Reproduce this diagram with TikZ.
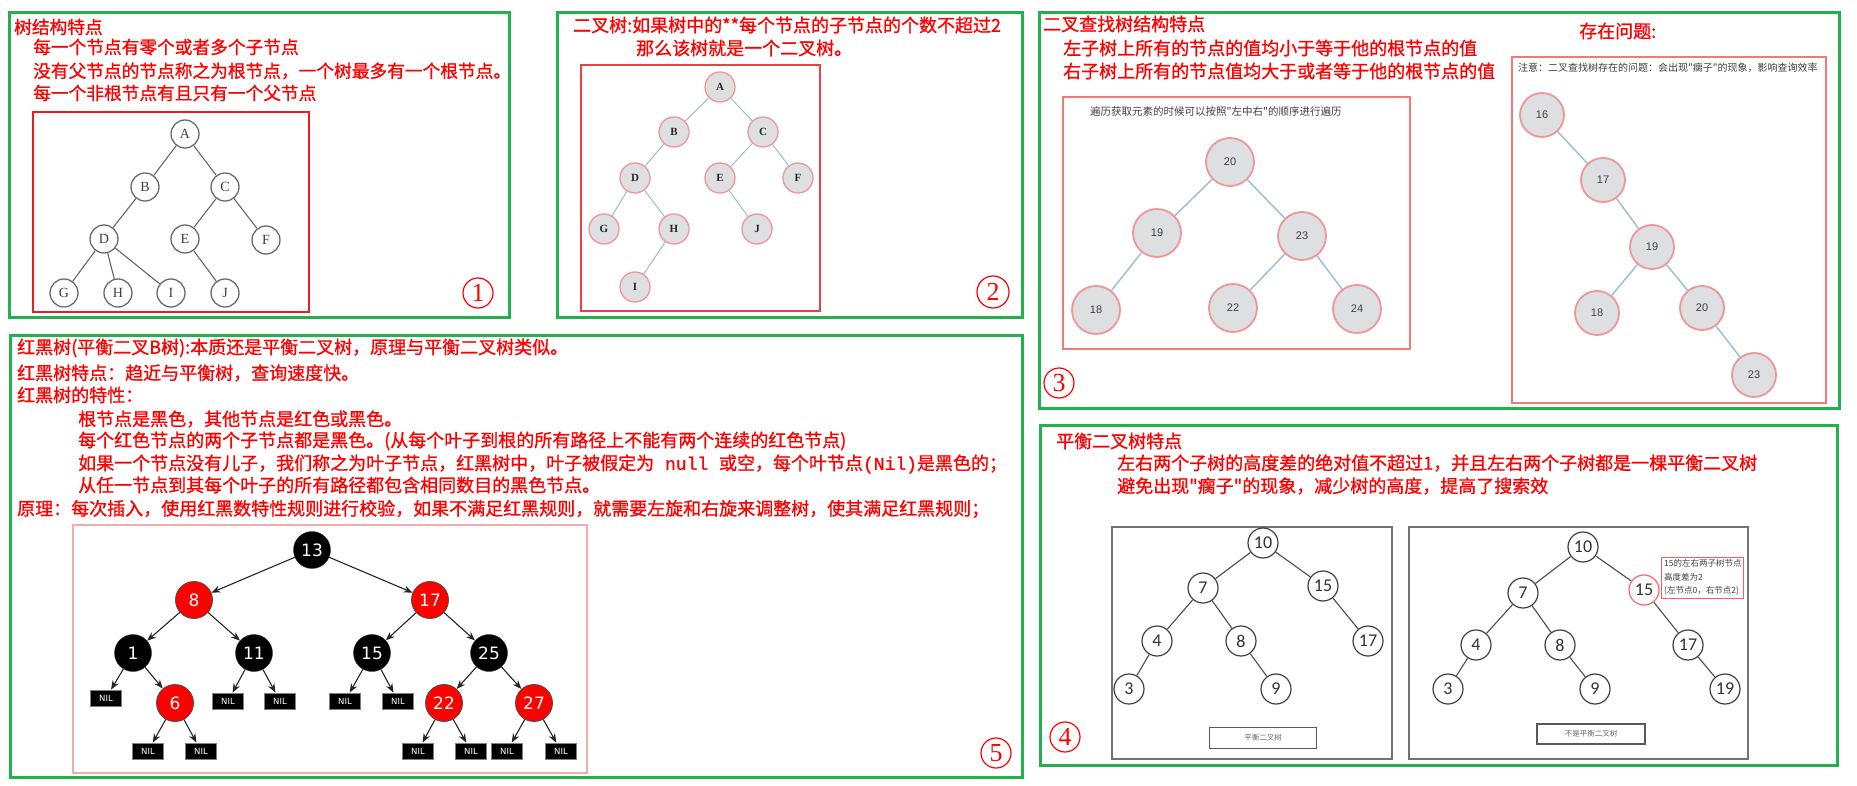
\documentclass[tikz,border=0pt]{standalone}
\usepackage{fontspec}
\newfontfamily\cjk{Noto Sans CJK SC}
\newfontfamily\cjkb[FakeBold=1]{Noto Sans CJK SC}
\newfontfamily\lserif{Liberation Serif}
\newfontfamily\lsans{Liberation Sans}
\newfontfamily\carl{Carlito}
\newfontfamily\dvs{DejaVu Sans}
\newfontfamily\lmono[FakeBold=1]{Liberation Mono}
\usetikzlibrary{arrows.meta}
\definecolor{pgreen}{RGB}{34,177,76}
\definecolor{pred}{RGB}{237,28,36}
\definecolor{pinkline}{RGB}{240,150,150}
\definecolor{nodegray}{RGB}{221,223,225}
\definecolor{edgeblue}{RGB}{150,190,215}
\begin{document}
\begin{tikzpicture}[x=1pt,y=-1pt,
  panel/.style={draw=pgreen,line width=3pt},
  rt/.style={anchor=west,inner sep=0pt,text=red,font=\cjkb\fontsize{18}{20}\selectfont},
  rta/.style={rt,font=\cjkb\fontsize{17.7}{20}\selectfont},
  smalltxt/.style={anchor=west,inner sep=0pt,text=black!75,font=\cjk\fontsize{10.5}{12}\selectfont},
  cnum/.style={circle,draw=red,line width=1.2pt,text=red,minimum size=30pt,inner sep=0pt,font=\lserif\fontsize{26}{26}\selectfont},
  ta/.style={circle,draw=gray!85!black,line width=1.3pt,fill=white,minimum size=28pt,inner sep=0pt,text=black!75,font=\lserif\fontsize{14}{14}\selectfont},
  ea/.style={draw=gray!80!black,line width=1.1pt},
  tb/.style={circle,draw=pinkline,line width=1.3pt,fill=nodegray,minimum size=30pt,inner sep=0pt,text=black!85,font=\lserif\bfseries\fontsize{11}{11}\selectfont},
  eb/.style={draw=edgeblue,line width=1pt},
  tc/.style={circle,draw=pinkline,line width=1.8pt,fill=nodegray,minimum size=48pt,inner sep=0pt,text=black!75,font=\lsans\fontsize{11}{11}\selectfont},
  tcs/.style={tc,minimum size=44pt},
  ec/.style={draw=edgeblue,line width=1.4pt},
  td/.style={circle,draw=black!75,line width=1.2pt,fill=white,minimum size=30pt,inner sep=0pt,text=black!80,font=\carl\fontsize{18}{18}\selectfont},
  ed/.style={draw=black!70,line width=1.1pt},
  rbb/.style={circle,fill=black,draw=black!80,minimum size=37pt,inner sep=0pt,text=white,font=\dvs\fontsize{17}{17}\selectfont},
  rbr/.style={rbb,fill=red,draw=black!70,line width=0.8pt},
  nil/.style={rectangle,fill=black,draw=black!50,line width=0.8pt,minimum width=31pt,minimum height=16pt,inner sep=0pt,text=white,font=\dvs\fontsize{8.5}{8.5}\selectfont},
  ar/.style={-{Stealth[length=9pt,width=7pt]},draw=black!85,line width=1.1pt},
  lbox/.style={rectangle,draw=black!65,line width=1.5pt,inner sep=0pt,text=black!60,font=\cjk\fontsize{7.5}{8}\selectfont}
]
\useasboundingbox[fill=white] (0,0) rectangle (1857,786);

% ---------------- Panel 1 ----------------
\draw[panel] (9,13) rectangle (509,317);
\node[rta] (p1t) at (14,27) {树结构特点};
\node[rta] (p1a) at (33,47) {每一个节点有零个或者多个子节点};
\node[rta] (p1b) at (33,71) {没有父节点的节点称之为根节点，一个树最多有一个根节点。};
\node[rta] (p1c) at (33,93) {每一个非根节点有且只有一个父节点};
\draw[draw=pred,line width=2.4pt] (33,112) rectangle (309,312);
\node[ta] (aA) at (185,134) {A};
\node[ta] (aB) at (145,187) {B};
\node[ta] (aC) at (225,187) {C};
\node[ta] (aD) at (104,239) {D};
\node[ta] (aE) at (185,239) {E};
\node[ta] (aF) at (266,240) {F};
\node[ta] (aG) at (64,293) {G};
\node[ta] (aH) at (118,293) {H};
\node[ta] (aI) at (171,293) {I};
\node[ta] (aJ) at (225,293) {J};
\draw[ea] (aA) -- (aB); \draw[ea] (aA) -- (aC);
\draw[ea] (aB) -- (aD); \draw[ea] (aC) -- (aE); \draw[ea] (aC) -- (aF);
\draw[ea] (aD) -- (aG); \draw[ea] (aD) -- (aH); \draw[ea] (aD) -- (aI);
\draw[ea] (aE) -- (aJ);
\node[cnum] (n1) at (478,293) {1};

% ---------------- Panel 2 ----------------
\draw[panel] (557,13) rectangle (1022,317);
\node[rt] (p2a) at (573,25) {二叉树:如果树中的**每个节点的子节点的个数不超过2};
\node[rt] (p2b) at (636,48) {那么该树就是一个二叉树。};
\draw[draw=pred!85,line width=1.6pt] (581,65) rectangle (820,311);
\node[tb] (bA) at (720,87) {A};
\node[tb] (bB) at (674,132) {B};
\node[tb] (bC) at (763,132) {C};
\node[tb] (bD) at (635,178) {D};
\node[tb] (bE) at (720,178) {E};
\node[tb] (bF) at (798,178) {F};
\node[tb] (bG) at (604,229) {G};
\node[tb] (bH) at (674,229) {H};
\node[tb] (bJ) at (757,229) {J};
\node[tb] (bI) at (635,287) {I};
\draw[eb] (bA) -- (bB); \draw[eb] (bA) -- (bC);
\draw[eb] (bB) -- (bD); \draw[eb] (bC) -- (bE); \draw[eb] (bC) -- (bF);
\draw[eb] (bD) -- (bG); \draw[eb] (bD) -- (bH);
\draw[eb] (bE) -- (bJ); \draw[eb] (bH) -- (bI);
\node[cnum,minimum size=32pt] (n2) at (993,292) {2};

% ---------------- Panel 3 ----------------
\draw[panel] (1039,13) rectangle (1839,408);
\node[rt] (p3t) at (1043,24) {二叉查找树结构特点};
\node[rt] (p3a) at (1063,48) {左子树上所有的节点的值均小于等于他的根节点的值};
\node[rt] (p3b) at (1063,71) {右子树上所有的节点值均大于或者等于他的根节点的值};
\node[rt] (p3q) at (1579,31) {存在问题:};
\draw[draw=pinkline!80!red,line width=1.3pt] (1063,97) rectangle (1410,349);
\node[smalltxt] (p3s1) at (1090,112) {遍历获取元素的时候可以按照"左中右"的顺序进行遍历};
\node[tc] (c20) at (1230,162) {20};
\node[tc] (c19) at (1157,233) {19};
\node[tc] (c23) at (1302,236) {23};
\node[tc] (c18) at (1096,310) {18};
\node[tc] (c22) at (1233,308) {22};
\node[tc] (c24) at (1357,309) {24};
\draw[ec] (c20) -- (c19); \draw[ec] (c20) -- (c23);
\draw[ec] (c19) -- (c18); \draw[ec] (c23) -- (c22); \draw[ec] (c23) -- (c24);
\draw[draw=pinkline!80!red,line width=1.3pt] (1512,57) rectangle (1826,403);
\node[smalltxt,font=\cjk\fontsize{10}{12}\selectfont] (p3s2) at (1518,68) {注意：二叉查找树存在的问题：会出现"瘸子"的现象，影响查询效率};
\node[tcs] (d16) at (1542,115) {16};
\node[tcs] (d17) at (1603,180) {17};
\node[tcs] (d19) at (1652,247) {19};
\node[tcs] (d18) at (1597,313) {18};
\node[tcs] (d20) at (1702,308) {20};
\node[tcs] (d23) at (1754,375) {23};
\draw[ec] (d16) -- (d17); \draw[ec] (d17) -- (d19);
\draw[ec] (d19) -- (d18); \draw[ec] (d19) -- (d20); \draw[ec] (d20) -- (d23);
\node[cnum] (n3) at (1059,383) {3};

% ---------------- Panel 4 ----------------
\draw[panel] (1040,425) rectangle (1837,765);
\node[rt] (p4t) at (1056,441) {平衡二叉树特点};
\node[rt] (p4a) at (1117,463) {左右两个子树的高度差的绝对值不超过1，并且左右两个子树都是一棵平衡二叉树};
\node[rt] (p4b) at (1117,486) {避免出现"瘸子"的现象，减少树的高度，提高了搜索效};
\draw[draw=black!55,line width=1.2pt] (1112,527) rectangle (1392,759);
\node[td] (e10) at (1263,543) {10};
\node[td] (e7) at (1203,588) {7};
\node[td] (e15) at (1323,586) {15};
\node[td] (e4) at (1157,641) {4};
\node[td] (e8) at (1241,641) {8};
\node[td] (e17) at (1368,641) {17};
\node[td] (e3) at (1129,689) {3};
\node[td] (e9) at (1276,689) {9};
\draw[ed] (e10) -- (e7); \draw[ed] (e10) -- (e15);
\draw[ed] (e7) -- (e4); \draw[ed] (e7) -- (e8);
\draw[ed] (e4) -- (e3); \draw[ed] (e8) -- (e9);
\draw[ed] (e15) -- (e17);
\node[lbox,minimum width=107pt,minimum height=21pt] (lb1) at (1263,738) {平衡二叉树};
\draw[draw=black!55,line width=1.2pt] (1409,527) rectangle (1748,759);
\node[td] (f10) at (1583,547) {10};
\node[td] (f7) at (1523,593) {7};
\node[td,draw=red!60] (f15) at (1644,590) {15};
\node[td] (f4) at (1476,645) {4};
\node[td] (f8) at (1560,645) {8};
\node[td] (f17) at (1688,645) {17};
\node[td] (f3) at (1448,689) {3};
\node[td] (f9) at (1595,689) {9};
\node[td] (f19) at (1725,689) {19};
\draw[ed] (f10) -- (f7); \draw[ed] (f10) -- (f15);
\draw[ed] (f7) -- (f4); \draw[ed] (f7) -- (f8);
\draw[ed] (f4) -- (f3); \draw[ed] (f8) -- (f9);
\draw[ed] (f15) -- (f17); \draw[ed] (f17) -- (f19);
\draw[draw=red!65,line width=1pt] (1661,557) rectangle (1743,598);
\node[smalltxt,font=\cjk\fontsize{8.5}{10}\selectfont] (an1) at (1664,563) {15的左右两子树节点};
\node[smalltxt,font=\cjk\fontsize{8.5}{10}\selectfont] (an2) at (1664,577) {高度差为2};
\node[smalltxt,font=\cjk\fontsize{8.5}{10}\selectfont] (an3) at (1664,591) {(左节点0，右节点2)};
\node[lbox,minimum width=108pt,minimum height=20pt] (lb2) at (1591,734) {不是平衡二叉树};
\node[cnum] (n4) at (1065,737) {4};

% ---------------- Panel 5 ----------------
\draw[panel] (10,335) rectangle (1022,777);
\node[rt] (p5a) at (17,348) {红黑树(平衡二叉B树):本质还是平衡二叉树，原理与平衡二叉树类似。};
\node[rt] (p5b) at (17,373) {红黑树特点：趋近与平衡树，查询速度快。};
\node[rt] (p5c) at (17,395) {红黑树的特性：};
\node[rt] (p5d) at (78,419) {根节点是黑色，其他节点是红色或黑色。};
\node[rt] (p5e) at (78,441) {每个红色节点的两个子节点都是黑色。(从每个叶子到根的所有路径上不能有两个连续的红色节点)};
\node[rt] (p5f) at (78,464) {如果一个节点没有儿子，我们称之为叶子节点，红黑树中，叶子被假定为{\lmono\ null }或空，每个叶节点{\lmono(Nil)}是黑色的；};
\node[rt] (p5g) at (78,485) {从任一节点到其每个叶子的所有路径都包含相同数目的黑色节点。};
\node[rt] (p5h) at (17,509) {原理：每次插入，使用红黑数特性规则进行校验，如果不满足红黑规则，就需要左旋和右旋来调整树，使其满足红黑规则；};
\draw[draw=pinkline!80,line width=1.4pt] (73,525) rectangle (587,773);
\node[rbb] (r13) at (312,550) {13};
\node[rbr] (r8) at (194,600) {8};
\node[rbr] (r17) at (430,600) {17};
\node[rbb] (r1) at (133,653) {1};
\node[rbb] (r11) at (254,653) {11};
\node[rbb] (r15) at (372,653) {15};
\node[rbb] (r25) at (489,653) {25};
\node[rbr] (r6) at (175,703) {6};
\node[rbr] (r22) at (444,703) {22};
\node[rbr] (r27) at (534,703) {27};
\node[nil] (nA) at (106,698) {NIL};
\node[nil] (nB) at (148,751) {NIL};
\node[nil] (nC) at (201,751) {NIL};
\node[nil] (nD) at (228,701) {NIL};
\node[nil] (nE) at (280,701) {NIL};
\node[nil] (nF) at (345,701) {NIL};
\node[nil] (nG) at (398,701) {NIL};
\node[nil] (nH) at (418,751) {NIL};
\node[nil] (nI) at (471,751) {NIL};
\node[nil] (nJ) at (507,751) {NIL};
\node[nil] (nK) at (561,751) {NIL};
\draw[ar] (r13) -- (r8); \draw[ar] (r13) -- (r17);
\draw[ar] (r8) -- (r1); \draw[ar] (r8) -- (r11);
\draw[ar] (r17) -- (r15); \draw[ar] (r17) -- (r25);
\draw[ar] (r1) -- (nA); \draw[ar] (r1) -- (r6);
\draw[ar] (r6) -- (nB); \draw[ar] (r6) -- (nC);
\draw[ar] (r11) -- (nD); \draw[ar] (r11) -- (nE);
\draw[ar] (r15) -- (nF); \draw[ar] (r15) -- (nG);
\draw[ar] (r25) -- (r22); \draw[ar] (r25) -- (r27);
\draw[ar] (r22) -- (nH); \draw[ar] (r22) -- (nI);
\draw[ar] (r27) -- (nJ); \draw[ar] (r27) -- (nK);
\node[cnum] (n5) at (996,753) {5};
\end{tikzpicture}
\end{document}
